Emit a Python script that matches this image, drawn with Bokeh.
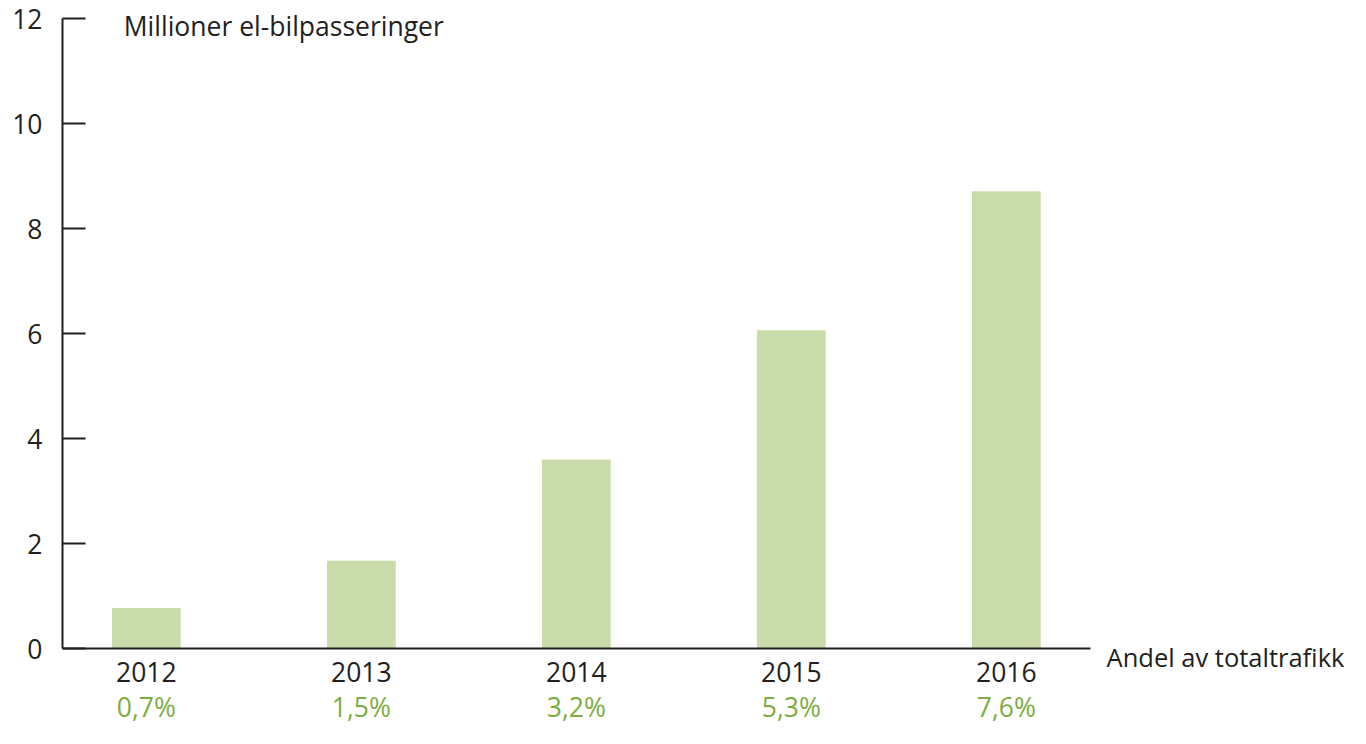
from bokeh.plotting import figure
from bokeh.models import ColumnDataSource, FixedTicker, Label, LinearAxis
from bokeh.embed import file_html
from bokeh.resources import INLINE

years = ["2012", "2013", "2014", "2015", "2016"]
passeringer = [0.77, 1.67, 3.6, 6.06, 8.71]
andel = ["0,7%", "1,5%", "3,2%", "5,3%", "7,6%"]
y_ticks = [0, 2, 4, 6, 8, 10, 12]

FONT = "Open Sans"
TXT = "#231f20"
BAR = "#cadcab"
GREEN = "#7dad41"
FS = "26.5px"

xs = list(range(len(years)))
src = ColumnDataSource(dict(x=xs, top=passeringer))

p = figure(width=1350, height=728, output_backend="svg", toolbar_location=None,
           x_range=(-0.39, 5.6007), y_range=(-1.5238, 12.3429),
           min_border_left=62, min_border_right=0, min_border_top=0,
           min_border_bottom=0, x_axis_type=None)
p.outline_line_color = None
p.xgrid.visible = False
p.ygrid.visible = False
p.background_fill_color = "white"
p.border_fill_color = "white"

p.vbar(x="x", top="top", width=0.32, bottom=0, source=src, color=BAR, line_color=None)

# y axis
ya = p.yaxis[0]
ya.ticker = FixedTicker(ticks=y_ticks)
ya.bounds = (0, 12)
ya.major_tick_in = 23
ya.major_tick_out = 0
ya.minor_tick_line_color = None
ya.axis_line_color = TXT
ya.axis_line_width = 2
ya.major_tick_line_color = TXT
ya.major_tick_line_width = 2
ya.major_label_text_font = FONT
ya.major_label_text_font_size = FS
ya.major_label_text_color = TXT
ya.major_label_standoff = 20

# x axis with years at y = 0
xa = LinearAxis(fixed_location=0, bounds=(-0.39, 4.39),
                ticker=FixedTicker(ticks=xs),
                major_label_overrides={i: y for i, y in zip(xs, years)},
                major_tick_in=0, major_tick_out=0,
                minor_tick_line_color=None,
                axis_line_color=TXT, axis_line_width=2,
                major_label_text_font=FONT, major_label_text_font_size=FS,
                major_label_text_color=TXT, major_label_standoff=13)
p.add_layout(xa, "below")

# second row: share of total traffic
xa2 = LinearAxis(fixed_location=0, bounds=(-0.39, 4.39),
                 ticker=FixedTicker(ticks=xs),
                 major_label_overrides={i: a for i, a in zip(xs, andel)},
                 major_tick_in=0, major_tick_out=0,
                 minor_tick_line_color=None,
                 axis_line_color=None,
                 major_label_text_font=FONT, major_label_text_font_size=FS,
                 major_label_text_color=GREEN, major_label_standoff=40)
p.add_layout(xa2, "below")

p.add_layout(Label(x=-0.105, y=11.848, text="Millioner el-bilpasseringer",
                   text_font=FONT, text_font_size=FS, text_color=TXT,
                   text_align="left", text_baseline="middle"))
p.add_layout(Label(x=4.466, y=-0.171, text="Andel av totaltrafikk",
                   text_font=FONT, text_font_size="25.5px", text_color=TXT,
                   text_align="left", text_baseline="middle"))

open("out.html", "w").write(file_html(p, INLINE))
